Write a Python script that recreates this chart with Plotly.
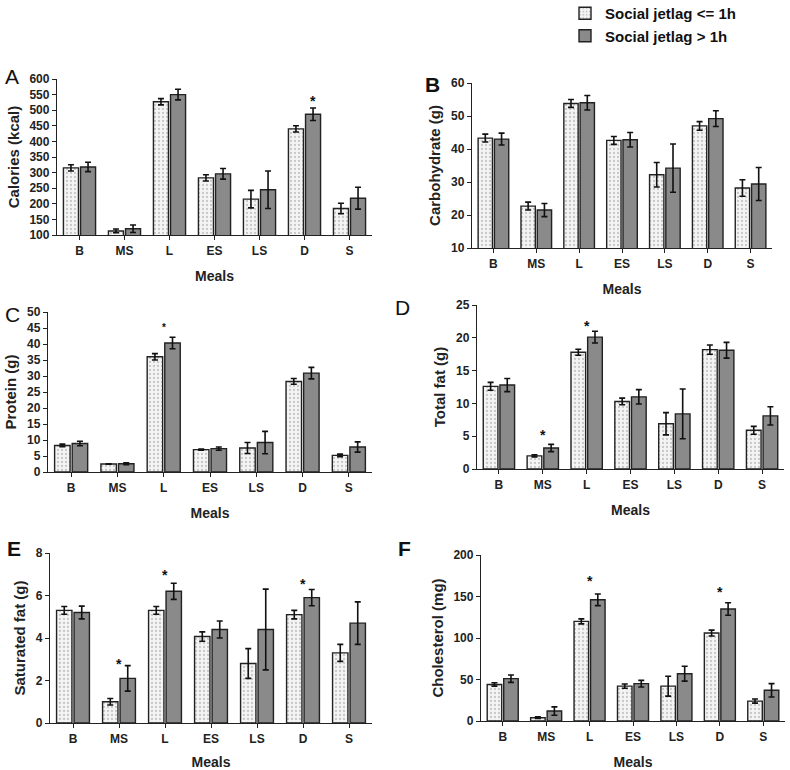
import plotly.graph_objects as go

meals = ["B", "MS", "L", "ES", "LS", "D", "S"]
groups = ["Social jetlag <= 1h", "Social jetlag > 1h"]

# A - calories
cal_low = [315, 113, 527, 283, 215, 440, 185]
cal_low_err = [10, 6, 10, 10, 28, 10, 17]
cal_high = [318, 120, 550, 296, 245, 487, 218]
cal_high_err = [15, 12, 17, 17, 60, 20, 35]

# B - carbohydrate
carb_low = [43.3, 22.7, 53.8, 42.6, 32.2, 47.0, 28.2]
carb_low_err = [1.2, 1.2, 1.2, 1.2, 3.7, 1.3, 2.5]
carb_high = [43.0, 21.5, 54.0, 42.8, 34.2, 49.2, 29.4]
carb_high_err = [1.8, 2.0, 2.2, 2.2, 7.3, 2.4, 5.0]

# C - protein
prot_low = [8.3, 2.5, 36.0, 7.0, 7.5, 28.3, 5.2]
prot_low_err = [0.4, 0.1, 1.0, 0.2, 1.7, 0.9, 0.4]
prot_high = [8.9, 2.6, 40.3, 7.3, 9.2, 30.9, 7.8]
prot_high_err = [0.7, 0.3, 1.8, 0.5, 3.5, 1.8, 1.6]

# D - total fat
fat_low = [12.6, 2.0, 17.8, 10.3, 6.9, 18.2, 5.9]
fat_low_err = [0.6, 0.15, 0.45, 0.5, 1.7, 0.7, 0.6]
fat_high = [12.8, 3.2, 20.1, 11.0, 8.4, 18.1, 8.1]
fat_high_err = [1.0, 0.55, 0.9, 1.1, 3.8, 1.2, 1.4]

# E - saturated fat
sat_low = [5.3, 1.0, 5.3, 4.07, 2.8, 5.1, 3.3]
sat_low_err = [0.18, 0.15, 0.18, 0.22, 0.7, 0.2, 0.4]
sat_high = [5.2, 2.1, 6.2, 4.4, 4.4, 5.9, 4.7]
sat_high_err = [0.3, 0.6, 0.38, 0.4, 1.9, 0.38, 1.0]

# F - cholesterol
chol_low = [44, 4, 120, 42, 42, 106, 24]
chol_low_err = [2, 1, 3, 2.5, 12, 3.5, 2.5]
chol_high = [51, 12, 146, 45, 57, 135, 37]
chol_high_err = [4.5, 5, 7, 4, 9, 7.5, 8]

# significance marks: (meal, y)
stars_a = [("D", 538)]
stars_c = [("L", 46)]
stars_d = [("MS", 5.6), ("L", 22.2)]
stars_e = [("MS", 2.9), ("L", 7.1), ("D", 6.7)]
stars_f = [("L", 172), ("D", 159)]

W, H = 790, 770
FONT = "Liberation Sans, Arial, sans-serif"


def fx(p):
    return p / W


def fy(p):
    return 1 - p / H


# panel boxes in pixels: (left, right), (top, bottom)
panels = [
    ("A", "Calories (kcal)", cal_low, cal_low_err, cal_high, cal_high_err, [100, 600], 50, stars_a,
     (57, 372), (79, 235), (12, 77), "normal"),
    ("B", "Carbohydrate (g)", carb_low, carb_low_err, carb_high, carb_high_err, [10, 60], 10, [],
     (472, 772), (83, 248), (432, 85), "bold"),
    ("C", "Protein (g)", prot_low, prot_low_err, prot_high, prot_high_err, [0, 50], 5, stars_c,
     (48, 372), (312, 472), (12, 314), "normal"),
    ("D", "Total fat (g)", fat_low, fat_low_err, fat_high, fat_high_err, [0, 25], 5, stars_d,
     (477, 784), (305, 469), (402, 307), "normal"),
    ("E", "Saturated fat (g)", sat_low, sat_low_err, sat_high, sat_high_err, [0, 8], 2, stars_e,
     (50, 372), (553, 723), (14, 548), "bold"),
    ("F", "Cholesterol (mg)", chol_low, chol_low_err, chol_high, chol_high_err, [0, 200], 50, stars_f,
     (481, 785), (555, 721), (405, 548), "bold"),
]

fig = go.Figure()
layout = {}
annotations = []

for i, (letter, ytitle, lo, lo_e, hi, hi_e, yr, dt, stars, xp, yp, lpos, lw) in enumerate(panels):
    n = "" if i == 0 else str(i + 1)
    xa, ya = "x" + n, "y" + n
    fig.add_trace(go.Bar(
        x=meals, y=lo, name=groups[0], xaxis=xa, yaxis=ya,
        marker=dict(color="#f4f4f4", line=dict(color="#222", width=1.4),
                    pattern=dict(shape=".", fgcolor="#9a9a9a", bgcolor="#f4f4f4", size=4, solidity=0.25)),
        error_y=dict(type="data", array=lo_e, color="#111", thickness=1.6, width=3),
        showlegend=(i == 0), legendgroup="lo"))
    fig.add_trace(go.Bar(
        x=meals, y=hi, name=groups[1], xaxis=xa, yaxis=ya,
        marker=dict(color="#8a8a8a", line=dict(color="#222", width=1.4)),
        error_y=dict(type="data", array=hi_e, color="#111", thickness=1.6, width=3),
        showlegend=(i == 0), legendgroup="hi"))

    layout["xaxis" + n] = dict(
        domain=[fx(xp[0]), fx(xp[1])], anchor=ya, range=[-0.5, 6.5],
        showline=True, linecolor="#222", linewidth=1.3,
        ticks="outside", ticklen=4, tickcolor="#222", showgrid=False, automargin=False,
        tickfont=dict(family=FONT, size=12, color="#222", weight="bold"),
        title=dict(text="Meals", font=dict(family=FONT, size=14, color="#222", weight="bold"), standoff=14))
    layout["yaxis" + n] = dict(
        domain=[fy(yp[1]), fy(yp[0])], anchor=xa, range=yr, dtick=dt,
        showline=True, linecolor="#222", linewidth=1.3,
        ticks="outside", ticklen=4, tickcolor="#222", showgrid=False, zeroline=False, automargin=False,
        tickfont=dict(family=FONT, size=12, color="#222", weight="bold"),
        title=dict(text=ytitle, font=dict(family=FONT, size=15, color="#222", weight="bold"), standoff=6))

    annotations.append(dict(
        x=fx(lpos[0]), y=fy(lpos[1]), xref="paper", yref="paper", text=letter, showarrow=False,
        font=dict(family=FONT, size=21, color="#111", weight=lw), xanchor="center", yanchor="middle"))
    for meal, yv in stars:
        annotations.append(dict(
            x=meal, y=yv, xref=xa, yref=ya, text="*", showarrow=False, yanchor="middle",
            xshift=8 if letter == "A" else 0, yshift=-3,
            font=dict(family=FONT, size=10 if letter == "C" else 14, color="#111", weight="bold")))

fig.update_layout(
    width=W, height=H, margin=dict(l=0, r=0, t=0, b=0, autoexpand=False),
    paper_bgcolor="white", plot_bgcolor="white",
    barmode="group", bargap=0.24, bargroupgap=0.12,
    legend=dict(x=fx(565), y=fy(-3), xanchor="left", yanchor="top", itemwidth=30,
                font=dict(family=FONT, size=15, color="#111", weight="bold"), tracegroupgap=0),
    annotations=annotations,
    **layout)

# drop the page's default body margin so the 790x770 figure fills the window
fig.write_html("out.html", config={"displayModeBar": False},
               post_script="document.body.style.margin='0';")
